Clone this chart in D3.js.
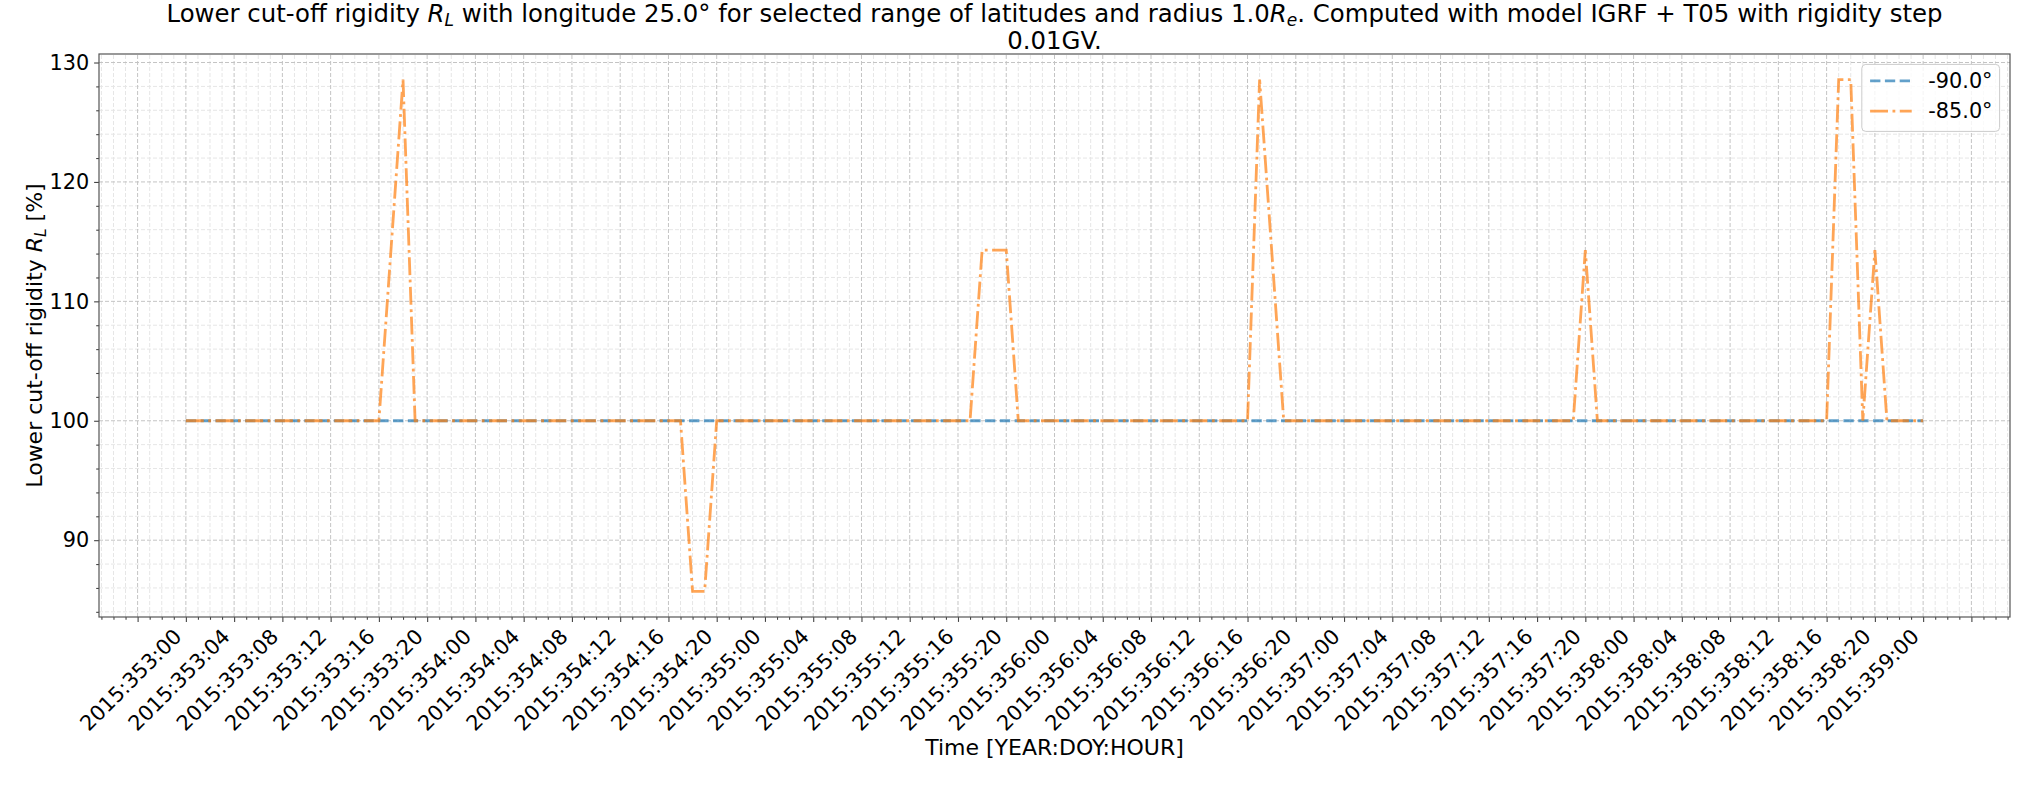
<!DOCTYPE html>
<html>
<head>
<meta charset="utf-8">
<script src="https://cdn.jsdelivr.net/npm/d3@7/dist/d3.min.js"></script>
<style>
  body { margin: 0; background: #fff; }
  text { font-family: "DejaVu Sans", sans-serif; fill: #000; }
</style>
</head>
<body>
<div id="chart"></div>
<script>
// hourly values from 2015:353:00 to 2015:359:00, one row per day
const lat90 = [
  100,100,100,100,100,100,100,100,100,100,100,100, 100,100,100,100,100,100,100,100,100,100,100,100,
  100,100,100,100,100,100,100,100,100,100,100,100, 100,100,100,100,100,100,100,100,100,100,100,100,
  100,100,100,100,100,100,100,100,100,100,100,100, 100,100,100,100,100,100,100,100,100,100,100,100,
  100,100,100,100,100,100,100,100,100,100,100,100, 100,100,100,100,100,100,100,100,100,100,100,100,
  100,100,100,100,100,100,100,100,100,100,100,100, 100,100,100,100,100,100,100,100,100,100,100,100,
  100,100,100,100,100,100,100,100,100,100,100,100, 100,100,100,100,100,100,100,100,100,100,100,100,
  100
]
const lat85 = [
  100,100,100,100,100,100,100,100,100,100,100,100, 100,100,100,100,100,114.29,128.57,100,100,100,100,100,
  100,100,100,100,100,100,100,100,100,100,100,100, 100,100,100,100,100,100,85.71,85.71,100,100,100,100,
  100,100,100,100,100,100,100,100,100,100,100,100, 100,100,100,100,100,100,114.29,114.29,114.29,100,100,100,
  100,100,100,100,100,100,100,100,100,100,100,100, 100,100,100,100,100,128.57,114.29,100,100,100,100,100,
  100,100,100,100,100,100,100,100,100,100,100,100, 100,100,100,100,100,100,100,100,114.29,100,100,100,
  100,100,100,100,100,100,100,100,100,100,100,100, 100,100,100,100,100,128.57,128.57,100,114.29,100,100,100,
  100
]
const seriesNames = ["-90.0\u00b0", "-85.0\u00b0"]
const seriesColors = ["#1f77b4", "#ff7f0e"]

const yTicks = [90, 100, 110, 120, 130]
const xTickLabels = [
  "2015:353:00", "2015:353:04", "2015:353:08", "2015:353:12", "2015:353:16", "2015:353:20",
  "2015:354:00", "2015:354:04", "2015:354:08", "2015:354:12", "2015:354:16", "2015:354:20",
  "2015:355:00", "2015:355:04", "2015:355:08", "2015:355:12", "2015:355:16", "2015:355:20",
  "2015:356:00", "2015:356:04", "2015:356:08", "2015:356:12", "2015:356:16", "2015:356:20",
  "2015:357:00", "2015:357:04", "2015:357:08", "2015:357:12", "2015:357:16", "2015:357:20",
  "2015:358:00", "2015:358:04", "2015:358:08", "2015:358:12", "2015:358:16", "2015:358:20",
  "2015:359:00"
]

let width = 2035
let height = 785
const margin = {top: 54, right: 25, bottom: 168, left: 99}
const tickFs = 20.8, titleFs = 24.4, labFs = 22
const tickLen = 4.9, minorLen = 2.8, tickPad = 4.9

let svg = d3.select("#chart").append("svg")
  .attr("width", width)
  .attr("height", height)

// hours since 2015:353:00
let hours = d3.range(lat85.length)
let span = hours[hours.length - 1] - hours[0]
let x = d3.scaleLinear()
  .domain([hours[0] - 0.05 * span, hours[hours.length - 1] + 0.05 * span])
  .range([margin.left, width - margin.right])

let ext = d3.extent(lat85.concat(lat90))
let ypad = 0.05 * (ext[1] - ext[0])
let y = d3.scaleLinear()
  .domain([ext[0] - ypad, ext[1] + ypad])
  .range([height - margin.bottom, margin.top])

let majorX = d3.range(-4, 152, 4)
let minorX = d3.range(Math.ceil(x.domain()[0]), x.domain()[1], 1).filter(h => h % 4 != 0)
let minorY = d3.range(84, 131, 2).filter(v => v % 10 != 0)

let x0 = margin.left, x1 = width - margin.right
let y0 = height - margin.bottom, y1 = margin.top

// grid
let grid = svg.append("g")
grid.selectAll(".gx-minor").data(minorX).enter().append("line")
  .attr("x1", d => x(d)).attr("x2", d => x(d)).attr("y1", y0).attr("y2", y1)
  .attr("stroke", "#e6e6e6").attr("stroke-width", 1).attr("stroke-dasharray", "4,2")
grid.selectAll(".gy-minor").data(minorY).enter().append("line")
  .attr("y1", d => y(d)).attr("y2", d => y(d)).attr("x1", x0).attr("x2", x1)
  .attr("stroke", "#e6e6e6").attr("stroke-width", 1).attr("stroke-dasharray", "4,2")
grid.selectAll(".gx").data(majorX).enter().append("line")
  .attr("x1", d => x(d)).attr("x2", d => x(d)).attr("y1", y0).attr("y2", y1)
  .attr("stroke", "#c4c4c4").attr("stroke-width", 1).attr("stroke-dasharray", "4,2")
grid.selectAll(".gy").data(yTicks).enter().append("line")
  .attr("y1", d => y(d)).attr("y2", d => y(d)).attr("x1", x0).attr("x2", x1)
  .attr("stroke", "#c4c4c4").attr("stroke-width", 1).attr("stroke-dasharray", "4,2")

// lines
let line = d3.line()
  .x((d, i) => x(hours[i]))
  .y(d => y(d))

svg.append("path")
  .datum(lat90)
  .attr("d", line)
  .attr("fill", "none")
  .attr("stroke", seriesColors[0])
  .attr("stroke-opacity", 0.7)
  .attr("stroke-width", 2.8)
  .attr("stroke-dasharray", "10.3,4.5")

svg.append("path")
  .datum(lat85)
  .attr("d", line)
  .attr("fill", "none")
  .attr("stroke", seriesColors[1])
  .attr("stroke-opacity", 0.7)
  .attr("stroke-width", 2.8)
  .attr("stroke-dasharray", "17.9,4.5,2.8,4.5")

// axes
let xAxis = svg.append("g")
  .attr("transform", `translate(0,${y0})`)
  .call(d3.axisBottom(x).tickValues(majorX).tickSize(tickLen).tickPadding(tickPad)
    .tickFormat(d => (d >= 0 && d / 4 < xTickLabels.length) ? xTickLabels[d / 4] : ""))
xAxis.selectAll("text")
  .attr("y", null).attr("dy", null)
  .attr("text-anchor", "end")
  .attr("font-size", tickFs)
  .attr("transform", `translate(${-0.23 * tickFs / Math.SQRT2},${tickLen + tickPad + 0.76 * tickFs / Math.SQRT2}) rotate(-45)`)

svg.append("g")
  .attr("transform", `translate(0,${y0})`)
  .call(d3.axisBottom(x).tickValues(minorX).tickSize(minorLen).tickFormat(""))

let yAxis = svg.append("g")
  .attr("transform", `translate(${x0},0)`)
  .call(d3.axisLeft(y).tickValues(yTicks).tickSize(tickLen).tickPadding(tickPad))
yAxis.selectAll("text").attr("font-size", tickFs)

svg.append("g")
  .attr("transform", `translate(${x0},0)`)
  .call(d3.axisLeft(y).tickValues(minorY).tickSize(minorLen).tickFormat(""))

svg.selectAll(".domain").remove()
svg.selectAll(".tick line").attr("stroke", "#444").attr("stroke-width", 1.1)

svg.append("rect")
  .attr("x", x0).attr("y", y1)
  .attr("width", x1 - x0).attr("height", y0 - y1)
  .attr("fill", "none")
  .attr("stroke", "#555")
  .attr("stroke-width", 1.2)

// axis labels
svg.append("text")
  .attr("x", (x0 + x1) / 2)
  .attr("y", 755)
  .attr("text-anchor", "middle")
  .attr("font-size", labFs)
  .text("Time [YEAR:DOY:HOUR]")

let ylab = svg.append("text")
  .attr("transform", `translate(42,${(y0 + y1) / 2}) rotate(-90)`)
  .attr("text-anchor", "middle")
  .attr("font-size", labFs)
ylab.append("tspan").text("Lower cut-off rigidity ")
ylab.append("tspan").attr("font-style", "italic").text("R")
ylab.append("tspan").attr("font-style", "italic").attr("baseline-shift", "-25%").attr("font-size", labFs * 0.7).text("L")
ylab.append("tspan").attr("baseline-shift", "0").text(" [%]")

// title
let title = svg.append("text")
  .attr("x", (x0 + x1) / 2)
  .attr("y", 22)
  .attr("text-anchor", "middle")
  .attr("font-size", titleFs)
title.append("tspan").text("Lower cut-off rigidity ")
title.append("tspan").attr("font-style", "italic").text("R")
title.append("tspan").attr("font-style", "italic").attr("baseline-shift", "-25%").attr("font-size", titleFs * 0.7).text("L")
title.append("tspan").text(" with longitude 25.0\u00b0 for selected range of latitudes and radius 1.0")
title.append("tspan").attr("font-style", "italic").text("R")
title.append("tspan").attr("font-style", "italic").attr("baseline-shift", "-25%").attr("font-size", titleFs * 0.7).text("e")
title.append("tspan").text(". Computed with model IGRF + T05 with rigidity step")

svg.append("text")
  .attr("x", (x0 + x1) / 2)
  .attr("y", 49)
  .attr("text-anchor", "middle")
  .attr("font-size", titleFs)
  .text("0.01GV.")

// legend
const lfs = 20.8
let legW = 137.8, legH = 67
let lg = svg.append("g")
  .attr("transform", `translate(${x1 - 10.4 - legW},${y1 + 10.4})`)
lg.append("rect")
  .attr("width", legW).attr("height", legH)
  .attr("rx", 4)
  .attr("fill", "#fff").attr("fill-opacity", 0.8)
  .attr("stroke", "#ccc").attr("stroke-width", 1)

let dashes = ["10.3,4.5", "17.9,4.5,2.8,4.5"]
seriesNames.forEach((name, i) => {
  let cy = 16.5 + i * 30.3
  lg.append("line")
    .attr("x1", 8.3).attr("x2", 8.3 + 41.6)
    .attr("y1", cy).attr("y2", cy)
    .attr("stroke", seriesColors[i]).attr("stroke-opacity", 0.7)
    .attr("stroke-width", 2.8)
    .attr("stroke-dasharray", dashes[i])
  lg.append("text")
    .attr("x", 8.3 + 41.6 + 16.6)
    .attr("y", cy + 7.3)
    .attr("font-size", lfs)
    .text(name)
})
</script>
</body>
</html>
